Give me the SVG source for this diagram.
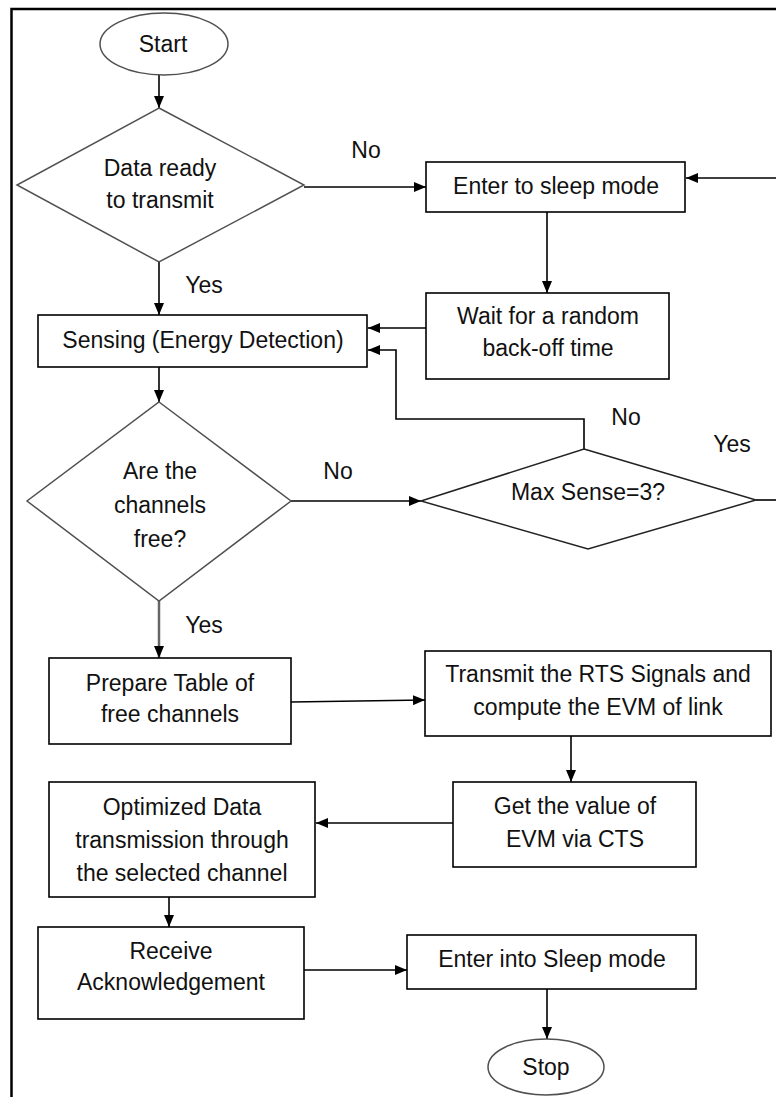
<svg xmlns="http://www.w3.org/2000/svg" width="776" height="1097" viewBox="0 0 776 1097">
<defs>
<marker id="arr" viewBox="0 0 12 10" refX="12" refY="5" markerWidth="12" markerHeight="10" markerUnits="userSpaceOnUse" orient="auto"><path d="M0,0 L12,5 L0,10 z" fill="#000"/></marker>
</defs>
<style>
.box{fill:#fff;stroke:#000;stroke-width:1.6}
.dia{fill:#fff;stroke:#505050;stroke-width:1.5}
.ell{fill:#fff;stroke:#505050;stroke-width:1.5}
.t{font-family:"Liberation Sans",Arial,sans-serif;font-size:23px;fill:#111;text-anchor:middle}
.c{fill:none;stroke:#000;stroke-width:1.6}
</style>
<rect x="0" y="0" width="776" height="1097" fill="#fff"/>
<path d="M11.5,1097 L11.5,9 L776,9" fill="none" stroke="#000" stroke-width="2.5"/>

<g id="connectors">
<line class="c" x1="159" y1="75" x2="159" y2="108" marker-end="url(#arr)"/>
<line class="c" x1="159" y1="262" x2="159" y2="315" marker-end="url(#arr)"/>
<line class="c" x1="304" y1="187" x2="426" y2="187" marker-end="url(#arr)"/>
<line class="c" x1="776" y1="178" x2="686" y2="178" marker-end="url(#arr)"/>
<line class="c" x1="547" y1="212" x2="547" y2="293" marker-end="url(#arr)"/>
<line class="c" x1="426" y1="328" x2="368" y2="328" marker-end="url(#arr)"/>
<path class="c" d="M584,449 L584,419 L396,419 L396,350 L368,350" marker-end="url(#arr)"/>
<line class="c" x1="159" y1="367" x2="159" y2="402" marker-end="url(#arr)"/>
<line class="c" x1="291" y1="501" x2="421" y2="501" marker-end="url(#arr)"/>
<line class="c" x1="756" y1="500" x2="776" y2="500"/>
<line class="c" x1="159" y1="601" x2="159" y2="658" marker-end="url(#arr)" style="stroke:#666;stroke-width:2.5"/>
<line class="c" x1="291" y1="702" x2="425" y2="700" marker-end="url(#arr)"/>
<line class="c" x1="571" y1="736" x2="571" y2="782" marker-end="url(#arr)"/>
<line class="c" x1="453" y1="823" x2="316" y2="823" marker-end="url(#arr)"/>
<line class="c" x1="169" y1="897" x2="169" y2="927" marker-end="url(#arr)"/>
<line class="c" x1="304" y1="970" x2="407" y2="970" marker-end="url(#arr)"/>
<line class="c" x1="547" y1="989" x2="547" y2="1039" marker-end="url(#arr)"/>
<text class="t" x="366" y="158">No</text>
<text class="t" x="204" y="293">Yes</text>
<text class="t" x="338" y="479">No</text>
<text class="t" x="626" y="425">No</text>
<text class="t" x="732" y="452">Yes</text>
<text class="t" x="204" y="633">Yes</text>
</g>

<g id="start">
<ellipse class="ell" cx="164" cy="44" rx="64" ry="31"/>
<text class="t" x="163" y="52">Start</text>
</g>
<g id="data-ready">
<polygon class="dia" points="159,108 304,185 159,262 17,185"/>
<text class="t" x="160" y="176">Data ready</text>
<text class="t" x="160" y="208">to transmit</text>
</g>
<g id="sleep1">
<rect class="box" x="426" y="162" width="259" height="50"/>
<text class="t" x="556" y="194">Enter to sleep mode</text>
</g>
<g id="wait">
<rect class="box" x="426" y="293" width="243" height="86"/>
<text class="t" x="548" y="324">Wait for a random</text>
<text class="t" x="548" y="356">back-off time</text>
</g>
<g id="sensing">
<rect class="box" x="38" y="315" width="329" height="52"/>
<text class="t" x="203" y="348">Sensing (Energy Detection)</text>
</g>
<g id="channels-free">
<polygon class="dia" points="159,402 291,501 159,601 27,501"/>
<text class="t" x="160" y="479">Are the</text>
<text class="t" x="160" y="513">channels</text>
<text class="t" x="160" y="547">free?</text>
</g>
<g id="max-sense">
<polygon class="dia" style="stroke:#222" points="584,449 756,500 588,549 421,501"/>
<text class="t" x="588" y="500">Max Sense=3?</text>
</g>
<g id="prepare">
<rect class="box" x="49" y="658" width="242" height="86"/>
<text class="t" x="170" y="691">Prepare Table of</text>
<text class="t" x="170" y="722">free channels</text>
</g>
<g id="transmit">
<rect class="box" x="425" y="651" width="346" height="85"/>
<text class="t" x="598" y="682">Transmit the RTS Signals and</text>
<text class="t" x="598" y="715">compute the EVM of link</text>
</g>
<g id="get-evm">
<rect class="box" x="453" y="782" width="243" height="85"/>
<text class="t" x="575" y="814">Get the value of</text>
<text class="t" x="575" y="847">EVM via CTS</text>
</g>
<g id="optimized">
<rect class="box" x="49" y="782" width="266" height="115"/>
<text class="t" x="182" y="815">Optimized Data</text>
<text class="t" x="182" y="848">transmission through</text>
<text class="t" x="182" y="881">the selected channel</text>
</g>
<g id="receive">
<rect class="box" x="38" y="927" width="266" height="92"/>
<text class="t" x="171" y="959">Receive</text>
<text class="t" x="171" y="990">Acknowledgement</text>
</g>
<g id="sleep2">
<rect class="box" x="407" y="935" width="289" height="54"/>
<text class="t" x="552" y="967">Enter into Sleep mode</text>
</g>
<g id="stop">
<ellipse class="ell" cx="546" cy="1067" rx="58" ry="28"/>
<text class="t" x="546" y="1075">Stop</text>
</g>
</svg>
